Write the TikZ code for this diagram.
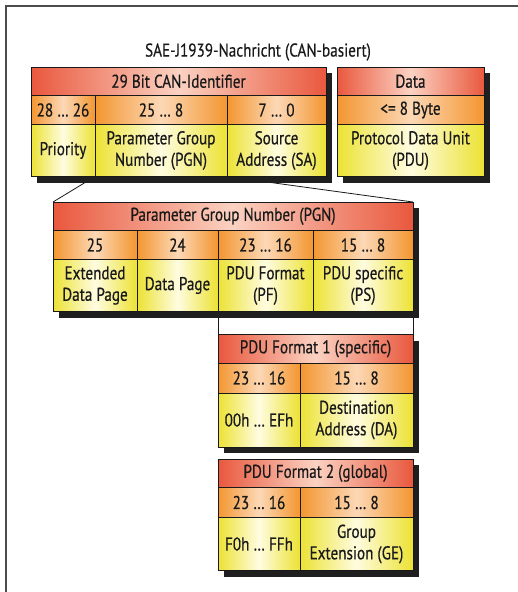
\documentclass[tikz,border=0pt]{standalone}
\usepackage{fontspec}
\setmainfont{PT Sans}[FakeStretch=0.82,FakeBold=0.5]
\usepackage{tikz}
\usetikzlibrary{positioning,backgrounds}

\definecolor{hdred}{RGB}{233,88,62}
\definecolor{hdredlt}{RGB}{251,210,194}
\definecolor{bitor}{RGB}{243,150,48}
\definecolor{bitorlt}{RGB}{252,216,182}
\definecolor{fldye}{RGB}{236,226,52}
\definecolor{fldyelt}{RGB}{255,252,224}

\tikzset{
	cell/.style={draw=black!90,line width=0.9pt,inner sep=0pt,outer sep=0pt,align=center,
		text=black!90,font=\fontsize{18.5}{21.5}\selectfont},
	headrow/.style={cell,minimum height=28.5pt,left color=hdred,right color=hdred,middle color=hdredlt},
	bitrow/.style={cell,minimum height=29pt,left color=bitor,right color=bitor,middle color=bitorlt},
	fieldrow/.style={cell,minimum height=52pt,left color=fldye,right color=fldye,middle color=fldyelt},
	shadowbox/.style={fill=black!88},
	link/.style={draw=black!90,line width=0.8pt},
}

\begin{document}
\begin{tikzpicture}[x=1pt,y=-1pt]
		\useasboundingbox (0,0) rectangle (518,592);
		\draw[black!70,line width=1.3pt] (6,592) -- (6,6) -- (518,6);
		\begin{scope}
			\node(title) [font=\fontsize{18.5}{21.5}\selectfont,text=black!90] at (258,52) {SAE-J1939-Nachricht (CAN-basiert)};
			% CAN identifier
			\node(canid) [headrow,minimum width=295pt,anchor=north west] at (31,67) {29 Bit CAN-Identifier};
			\node(b2826) [bitrow,minimum width=64pt,anchor=north west] at (canid.south west) {28 … 26};
			\node(b258) [bitrow,minimum width=132pt,right=0pt of b2826] {25 … 8};
			\node(b70) [bitrow,minimum width=99pt,right=0pt of b258] {7 … 0};
			\node(prio) [fieldrow,minimum width=64pt,below=0pt of b2826] {Priority};
			\node(pgnf) [fieldrow,minimum width=132pt,below=0pt of b258] {Parameter Group\\Number (PGN)};
			\node(sa) [fieldrow,minimum width=99pt,below=0pt of b70] {Source\\Address (SA)};
			% data
			\node(data) [headrow,minimum width=147pt,anchor=north west] at (337,67) {Data};
			\node(len) [bitrow,minimum width=147pt,below=0pt of data] {<= 8 Byte};
			\node(pdu) [fieldrow,minimum width=147pt,below=0pt of len] {Protocol Data Unit\\(PDU)};
		\end{scope}
		\begin{scope}
			% PGN
			\node(pgnhd) [headrow,minimum width=360pt,anchor=north west] at (53,202) {Parameter Group Number (PGN)};
			\node(b25) [bitrow,minimum width=84pt,anchor=north west] at (pgnhd.south west) {25};
			\node(b24) [bitrow,minimum width=81pt,right=0pt of b25] {24};
			\node(b2316) [bitrow,minimum width=95pt,right=0pt of b24] {23 … 16};
			\node(b158) [bitrow,minimum width=100pt,right=0pt of b2316] {15 … 8};
			\node(edp) [fieldrow,minimum width=84pt,below=0pt of b25] {Extended\\Data Page};
			\node(dp) [fieldrow,minimum width=81pt,below=0pt of b24] {Data Page};
			\node(pf) [fieldrow,minimum width=95pt,below=0pt of b2316] {PDU Format\\(PF)};
			\node(ps) [fieldrow,minimum width=100pt,below=0pt of b158] {PDU specific\\(PS)};
		\end{scope}
		\begin{scope}
			% PDU format 1
			\node(pdu1hd) [headrow,minimum width=195pt,below=23pt of pf.south west,anchor=north west] {PDU Format 1 (specific)};
			\node(pdu1hi) [bitrow,minimum width=82pt,minimum height=30pt,anchor=north west] at (pdu1hd.south west) {23 … 16};
			\node(pdu1lo) [bitrow,minimum width=113pt,minimum height=30pt,right=0pt of pdu1hi] {15 … 8};
			\node(pdu1pf) [fieldrow,minimum width=82pt,minimum height=54pt,below=0pt of pdu1hi] {00h … EFh};
			\node(pdu1da) [fieldrow,minimum width=113pt,minimum height=54pt,below=0pt of pdu1lo] {Destination\\Address (DA)};
			% PDU format 2
			\node(pdu2hd) [headrow,minimum width=195pt,below=12pt of pdu1pf.south west,anchor=north west] {PDU Format 2 (global)};
			\node(pdu2hi) [bitrow,minimum width=82pt,minimum height=30pt,anchor=north west] at (pdu2hd.south west) {23 … 16};
			\node(pdu2lo) [bitrow,minimum width=113pt,minimum height=30pt,right=0pt of pdu2hi] {15 … 8};
			\node(pdu2pf) [fieldrow,minimum width=82pt,minimum height=53pt,below=0pt of pdu2hi] {F0h … FFh};
			\node(pdu2ge) [fieldrow,minimum width=113pt,minimum height=53pt,below=0pt of pdu2lo] {Group\\Extension (GE)};
		\end{scope}
		\begin{scope}[on background layer]
			\path[link]
				(prio.south east) edge (pgnhd.north west)
				(sa.south west)   edge (pgnhd.north east)
				(pf.south west)   edge (pdu1hd.north west)
				(ps.south east)   edge (pdu1hd.north east);
			\foreach \a/\b in {canid/sa,data/pdu,pgnhd/ps,pdu1hd/pdu1da,pdu2hd/pdu2ge}
				\fill[shadowbox] ([shift={(6,6)}]\a.north west) rectangle ([shift={(6,6)}]\b.south east);
		\end{scope}
	\end{tikzpicture}
\end{document}
